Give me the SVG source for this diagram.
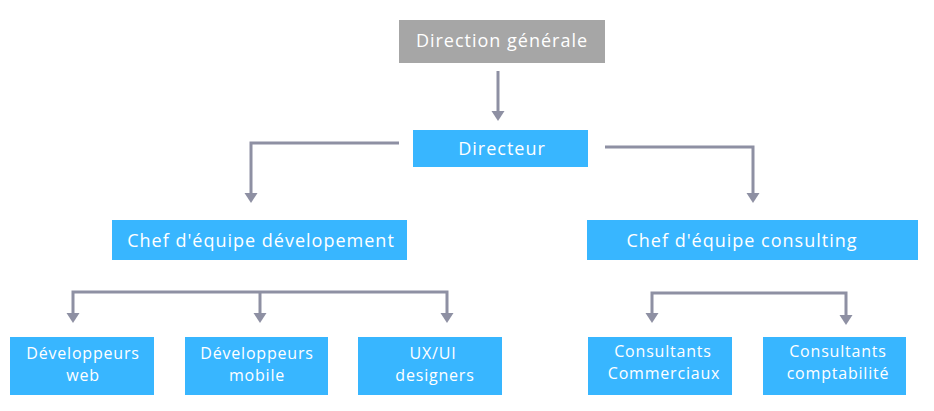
<svg xmlns="http://www.w3.org/2000/svg" width="934" height="411" viewBox="0 0 934 411">
<defs>
<marker id="arr" markerUnits="userSpaceOnUse" viewBox="0 -7 10 14" refX="5" refY="0" markerWidth="10" markerHeight="14" orient="auto">
<path d="M0,-6.5 L10,0 L0,6.5 z" fill="#8e90a3"/>
</marker>
<style>
.box{fill:#38b6ff}
.gbox{fill:#a6a6a6}
.t{font-family:"Open Sans","Liberation Sans",sans-serif;fill:#ffffff;text-anchor:middle}
.l{font-size:18px;letter-spacing:1px}
.s{font-size:16px;letter-spacing:0.8px}
.c{fill:none;stroke:#8e90a3;stroke-width:3;marker-end:url(#arr)}
</style>
</defs>
<rect width="934" height="411" fill="#ffffff"/>
<g id="connectors">
<path class="c" d="M498,71 V116"/>
<path class="c" d="M399,143 H251 V198"/>
<path class="c" d="M605,147 H753 V198"/>
<path class="c" d="M260,292 H73 V318"/>
<path class="c" d="M260,292 H447 V318"/>
<path class="c" d="M260,292 V318"/>
<path class="c" d="M749,293 H652 V318"/>
<path class="c" d="M749,293 H846 V320"/>
</g>
<g id="direction-generale">
<rect class="gbox" x="399" y="20" width="206" height="43"/>
<text class="t l" x="502" y="47">Direction générale</text>
</g>
<g id="directeur">
<rect class="box" x="413" y="130" width="175" height="37"/>
<text class="t l" x="502" y="155">Directeur</text>
</g>
<g id="chef-dev">
<rect class="box" x="112" y="220" width="295" height="40"/>
<text class="t l" x="261" y="247">Chef d'équipe dévelopement</text>
</g>
<g id="chef-consulting">
<rect class="box" x="587" y="220" width="331" height="40"/>
<text class="t l" x="742" y="247">Chef d'équipe consulting</text>
</g>
<g id="dev-web">
<rect class="box" x="10" y="337" width="144" height="58"/>
<text class="t s" x="83" y="359">Développeurs</text>
<text class="t s" x="83" y="381">web</text>
</g>
<g id="dev-mobile">
<rect class="box" x="185" y="337" width="143" height="58"/>
<text class="t s" x="257" y="359">Développeurs</text>
<text class="t s" x="257" y="381">mobile</text>
</g>
<g id="ux-ui">
<rect class="box" x="358" y="337" width="144" height="58"/>
<text class="t s" x="433" y="359">UX/UI</text>
<text class="t s" x="435" y="381">designers</text>
</g>
<g id="consultants-commerciaux">
<rect class="box" x="588" y="337" width="144" height="58"/>
<text class="t s" x="663" y="357">Consultants</text>
<text class="t s" x="664" y="379">Commerciaux</text>
</g>
<g id="consultants-comptabilite">
<rect class="box" x="763" y="337" width="143" height="58"/>
<text class="t s" x="838" y="357">Consultants</text>
<text class="t s" x="838" y="379">comptabilité</text>
</g>
</svg>
